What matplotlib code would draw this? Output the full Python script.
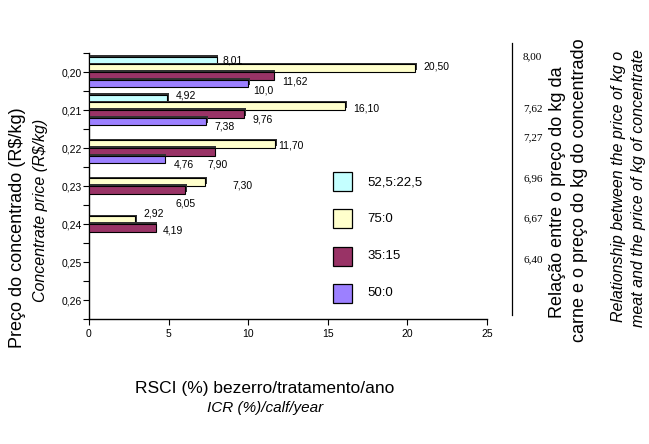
import numpy as np
import matplotlib
matplotlib.use("Agg")
import matplotlib.pyplot as plt
from matplotlib import patheffects as pe
from matplotlib.lines import Line2D

plt.rcParams['font.family'] = ['Liberation Sans', 'DejaVu Sans']

# ---------------- data ----------------
categories = ["0,20", "0,21", "0,22", "0,23", "0,24", "0,25", "0,26"]
series_names = ["52,5:22,5", "75:0", "35:15", "50:0"]
v_52_5 = [8.01, 4.92, np.nan, np.nan, np.nan, np.nan, np.nan]
v_75_0 = [20.50, 16.10, 11.70, 7.30, 2.92, np.nan, np.nan]
v_35_15 = [11.62, 9.76, 7.90, 6.05, 4.19, np.nan, np.nan]
v_50_0 = [10.0, 7.38, 4.76, np.nan, np.nan, np.nan, np.nan]
lab_52_5 = ["8,01", "4,92"]
lab_75_0 = ["20,50", "16,10", "11,70", "7,30", "2,92"]
lab_35_15 = ["11,62", "9,76", "7,90", "6,05", "4,19"]
lab_50_0 = ["10,0", "7,38", "4,76"]
ratio_labels = ["8,00", "7,62", "7,27", "6,96", "6,67", "6,40"]
x_ticks = [0, 5, 10, 15, 20, 25]

# ---------------- style ----------------
colors = ["#C4FFFF", "#FFFFCC", "#993366", "#9C80FF"]
# label offsets in pixels (dx right, dy down) relative to bar end / bar centre
offs_52_5 = [(6, 0), (8, -3)]
offs_75_0 = [(8, -2), (8, 2), (3, 1), (27, 3), (7.5, -7)]
offs_35_15 = [(8, 6), (8, 6), (-7, 13), (-10, 14), (7, 3)]
offs_50_0 = [(5, 7.5), (7.5, 5), (9, 5.5)]
ratio_y_px = [57, 109, 138, 179, 219, 260]

W, H = 649, 444
fig = plt.figure(figsize=(W / 100, H / 100), dpi=100)
ax = fig.add_axes([89 / W, 1 - 319 / H, 398 / W, 266 / H])

values = [v_52_5, v_75_0, v_35_15, v_50_0]
labels = [lab_52_5, lab_75_0, lab_35_15, lab_50_0]
offsets = [offs_52_5, offs_75_0, offs_35_15, offs_50_0]
bar_h = 0.2
ypos = np.arange(len(categories))
shadow = [pe.SimplePatchShadow(offset=(1.0, 1.3), shadow_rgbFace='0.2', alpha=1.0), pe.Normal()]

for j, (vals, labs, offs) in enumerate(zip(values, labels, offsets)):
    vals = np.array(vals, dtype=float)
    yc = ypos - 0.4 + bar_h * (j + 0.5)
    mask = ~np.isnan(vals)
    bars = ax.barh(yc[mask], vals[mask], height=bar_h, color=colors[j],
                   edgecolor='black', linewidth=0.8, zorder=3)
    for b in bars:
        b.set_path_effects(shadow)
    for k, (v, y) in enumerate(zip(vals[mask], yc[mask])):
        dx, dy = offs[k]
        ax.annotate(labs[k], xy=(v, y), xytext=(dx * 0.72, -dy * 0.72),
                    textcoords='offset points', ha='left', va='center',
                    fontsize=7.5, color='black', zorder=5)

ax.set_xlim(0, 25)
ax.set_ylim(len(categories) - 0.5, -0.5)
ax.set_xticks(x_ticks)
ax.set_xticklabels([str(t) for t in x_ticks], fontsize=7.5)
ax.set_yticks(ypos)
ax.set_yticklabels(categories, fontsize=7.5)
ax.set_yticks(np.arange(len(categories) + 1) - 0.5, minor=True)
ax.tick_params(axis='y', which='major', length=4, width=0.8, pad=1)
ax.tick_params(axis='y', which='minor', length=4, width=0.8)
ax.tick_params(axis='x', which='major', length=4, width=0.8, pad=3)
for s in ['top', 'right']:
    ax.spines[s].set_visible(False)
for s in ['left', 'bottom']:
    ax.spines[s].set_linewidth(1.0)

# legend (manual, as in the original)
leg_y = [182, 219, 256, 293]
for j, name in enumerate(series_names):
    yc = 1 - leg_y[j] / H
    fig.patches.append(plt.Rectangle((333 / W, yc - 9.5 / H), 19 / W, 19 / H,
                                     transform=fig.transFigure, facecolor=colors[j],
                                     edgecolor='black', linewidth=0.9))
    fig.text(367 / W, yc, name, fontsize=9.5, ha='left', va='center')

# right side ratio column
fig.add_artist(Line2D([512 / W, 512 / W], [1 - 43 / H, 1 - 315 / H],
                      transform=fig.transFigure, color='black', linewidth=0.9))
for t, ypx in zip(ratio_labels, ratio_y_px):
    fig.text(523 / W, 1 - ypx / H, t, fontsize=8, ha='left', va='center',
             family='Liberation Serif')

BIG, SMALL = 13, 11.5
fig.text(558 / W, 1 - 192 / H, "Relação entre o preço do kg da", rotation=90,
         fontsize=BIG, ha='center', va='center')
fig.text(579 / W, 1 - 190 / H, "carne e o preço do kg do concentrado", rotation=90,
         fontsize=BIG, ha='center', va='center')
fig.text(619 / W, 1 - 186 / H, "Relationship between the price of kg o", rotation=90,
         fontsize=SMALL, style='italic', ha='center', va='center')
fig.text(638 / W, 1 - 188 / H, "meat and the price of kg of concentrate", rotation=90,
         fontsize=SMALL, style='italic', ha='center', va='center')

# left axis titles
fig.text(18 / W, 1 - 228 / H, "Preço do concentrado (R$/kg)", rotation=90,
         fontsize=BIG, ha='center', va='center')
fig.text(41 / W, 1 - 210 / H, "Concentrate price (R$/kg)", rotation=90,
         fontsize=SMALL, style='italic', ha='center', va='center')

# bottom titles
fig.text(265 / W, 1 - 388 / H, "RSCI (%) bezerro/tratamento/ano",
         fontsize=12.5, ha='center', va='center')
fig.text(265 / W, 1 - 408 / H, "ICR (%)/calf/year",
         fontsize=11, style='italic', ha='center', va='center')

fig.savefig("out.png", dpi=100)
